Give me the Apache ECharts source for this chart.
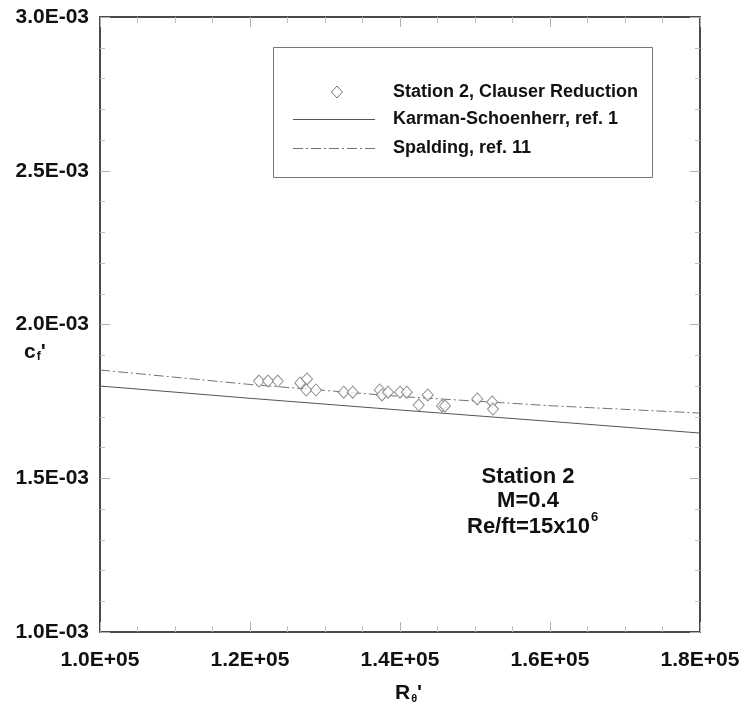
<!DOCTYPE html>
<html>
<head>
<meta charset="utf-8">
<script src="https://cdn.jsdelivr.net/npm/echarts@6/dist/echarts.min.js"></script>
<style>
  html, body { margin: 0; padding: 0; background: #fff; }
  #chart { width: 745px; height: 713px; }
</style>
</head>
<body>
<div id="chart"></div>
<script>
// Station 2 skin-friction measurements (Clauser reduction)
const reTheta = [121200, 122400, 123700, 126700, 127600, 127500, 128800, 132500, 133700,
                 137300, 137600, 138400, 140000, 140900, 142500, 143700, 145600, 146000,
                 150300, 152300, 152400];
const cfStation2 = [1.816e-3, 1.816e-3, 1.816e-3, 1.810e-3, 1.823e-3, 1.787e-3, 1.787e-3, 1.780e-3, 1.780e-3,
                    1.787e-3, 1.771e-3, 1.780e-3, 1.780e-3, 1.780e-3, 1.738e-3, 1.771e-3, 1.735e-3, 1.735e-3,
                    1.758e-3, 1.748e-3, 1.725e-3];

// Reference correlations
const lineRe = [1.0e5, 1.2e5, 1.4e5, 1.6e5, 1.8e5];
const cfKarman = [1.800e-3, 1.760e-3, 1.722e-3, 1.685e-3, 1.647e-3];
const cfSpalding = [1.852e-3, 1.805e-3, 1.766e-3, 1.736e-3, 1.712e-3];

// Axis ranges and ticks
const xMin = 1.0e5, xMax = 1.8e5, xStep = 2.0e4;
const yMin = 1.0e-3, yMax = 3.0e-3, yStep = 5.0e-4;

const seriesNames = ['Station 2, Clauser Reduction', 'Karman-Schoenherr, ref. 1', 'Spalding, ref. 11'];
const noteLines = ['Station 2', 'M=0.4'];

const FONT = "'Liberation Sans', Arial, Helvetica, sans-serif";
const INK = '#111';
const MARK = '#737373';
const SOLID = '#555';
const DASHDOT = [10, 3, 2, 3];

function sci(v) {
  const s = v.toExponential(1).toUpperCase();      // e.g. 1.0E+5
  return s.replace(/E([+-])(\d)$/, 'E$10$2');      // pad exponent to two digits
}

function pairs(xs, ys) { return xs.map((x, i) => [x, ys[i]]); }

const axisLine = { show: true, lineStyle: { color: '#4a4a4a', width: 2 } };
const tick = { show: true, inside: true, length: 10, lineStyle: { color: '#b0b0b0', width: 1 } };
const xMinor = { show: true, splitNumber: 4, length: 6, lineStyle: { color: '#c0c0c0' } };
const yMinor = { show: true, splitNumber: 5, length: 5, lineStyle: { color: '#c0c0c0' } };
const tickLabel = { formatter: sci, color: INK, fontSize: 21, fontWeight: 'bold', fontFamily: FONT };

// Legend box drawn as a framed key: symbol/line sample on the left, bold text on the right
const keyBox = { x: 273, y: 47, w: 379, h: 130 };
const keyRows = [92, 119, 148];
const keySample = { x1: 293, x2: 375 };
const keyTextX = 393;

function keyText(i) {
  return {
    type: 'text', x: keyTextX, y: keyRows[i], silent: true, z: 11,
    style: { text: seriesNames[i], font: 'bold 18px ' + FONT, fill: INK, verticalAlign: 'middle' }
  };
}

const chart = echarts.init(document.getElementById('chart'));
chart.setOption({
  backgroundColor: '#fff',
  animation: false,
  grid: { left: 100, right: 45, top: 17, bottom: 81, containLabel: false },
  xAxis: [
    {
      type: 'value', min: xMin, max: xMax, interval: xStep, position: 'bottom',
      axisLine, axisTick: tick, minorTick: xMinor, splitLine: { show: false },
      axisLabel: Object.assign({ margin: 18 }, tickLabel)
    },
    {
      type: 'value', min: xMin, max: xMax, interval: xStep, position: 'top',
      axisLine, axisTick: tick, minorTick: xMinor, splitLine: { show: false },
      axisLabel: { show: false }
    }
  ],
  yAxis: [
    {
      type: 'value', min: yMin, max: yMax, interval: yStep, position: 'left',
      axisLine, axisTick: tick, minorTick: yMinor, splitLine: { show: false },
      axisLabel: Object.assign({ margin: 11 }, tickLabel)
    },
    {
      type: 'value', min: yMin, max: yMax, interval: yStep, position: 'right',
      axisLine, axisTick: tick, minorTick: yMinor, splitLine: { show: false },
      axisLabel: { show: false }
    }
  ],
  series: [
    {
      name: seriesNames[0], type: 'scatter', data: pairs(reTheta, cfStation2),
      symbol: 'diamond', symbolSize: [11, 12],
      itemStyle: { color: '#fff', borderColor: MARK, borderWidth: 1 },
      z: 5
    },
    {
      name: seriesNames[1], type: 'line', data: pairs(lineRe, cfKarman),
      symbol: 'none',
      lineStyle: { color: SOLID, width: 1, type: 'solid' }
    },
    {
      name: seriesNames[2], type: 'line', data: pairs(lineRe, cfSpalding),
      symbol: 'none',
      lineStyle: { color: MARK, width: 1, type: DASHDOT }
    }
  ],
  graphic: [
    // key frame
    {
      type: 'rect', silent: true,
      shape: { x: keyBox.x + 0.5, y: keyBox.y + 0.5, width: keyBox.w, height: keyBox.h },
      style: { fill: '#fff', stroke: '#777', lineWidth: 1 }, z: 10
    },
    {
      type: 'polygon', silent: true, z: 11,
      shape: { points: [[337, keyRows[0] - 6], [342.5, keyRows[0]], [337, keyRows[0] + 6], [331.5, keyRows[0]]] },
      style: { fill: '#fff', stroke: MARK, lineWidth: 1 }
    },
    {
      type: 'line', silent: true, z: 11,
      shape: { x1: keySample.x1, y1: keyRows[1] + 0.5, x2: keySample.x2, y2: keyRows[1] + 0.5 },
      style: { stroke: SOLID, lineWidth: 1 }
    },
    {
      type: 'line', silent: true, z: 11,
      shape: { x1: keySample.x1, y1: keyRows[2] + 0.5, x2: keySample.x2, y2: keyRows[2] + 0.5 },
      style: { stroke: MARK, lineWidth: 1, lineDash: DASHDOT }
    },
    keyText(0),
    keyText(1),
    keyText(2),

    // condition note
    {
      type: 'text', x: 528, y: 477, silent: true,
      style: { text: noteLines[0], font: 'bold 22px ' + FONT, fill: INK, align: 'center', verticalAlign: 'middle' }
    },
    {
      type: 'text', x: 528, y: 501, silent: true,
      style: { text: noteLines[1], font: 'bold 22px ' + FONT, fill: INK, align: 'center', verticalAlign: 'middle' }
    },
    {
      type: 'text', x: 467, y: 527, silent: true,
      style: {
        text: '{a|Re/ft=15x10}{s|6}', verticalAlign: 'middle',
        rich: {
          a: { font: 'bold 22px ' + FONT, fill: INK },
          s: { font: 'bold 13px ' + FONT, fill: INK, padding: [0, 0, 20, 1] }
        }
      }
    },

    // axis titles
    {
      type: 'text', x: 24, y: 352, silent: true,
      style: {
        text: "{a|c}{s|f}{a|'}", verticalAlign: 'middle',
        rich: {
          a: { font: 'bold 21px ' + FONT, fill: INK },
          s: { font: 'bold 12px ' + FONT, fill: INK, padding: [10, 0, 0, 1] }
        }
      }
    },
    {
      type: 'text', x: 395, y: 693, silent: true,
      style: {
        text: "{a|R}{s|θ}{a|'}", verticalAlign: 'middle',
        rich: {
          a: { font: 'bold 21px ' + FONT, fill: INK },
          s: { font: 'bold 11px ' + FONT, fill: INK, padding: [12, 0, 0, 1] }
        }
      }
    }
  ]
});
</script>
</body>
</html>
